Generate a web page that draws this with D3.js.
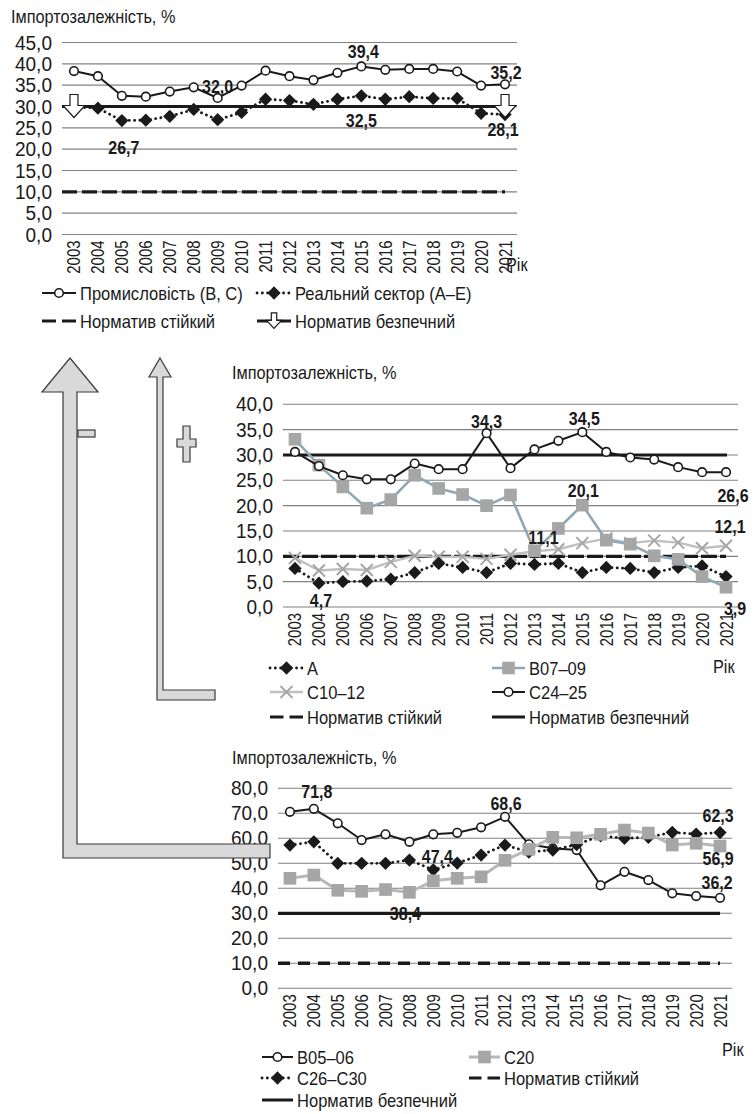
<!DOCTYPE html>
<html>
<head>
<meta charset="utf-8">
<script src="https://cdn.jsdelivr.net/npm/d3@7"></script>
<style>
  body { margin: 0; background: #fff; }
  svg text { font-family: "Liberation Sans", Arial, sans-serif; fill: #1a1a1a; }
</style>
</head>
<body>
<svg id="chart" width="756" height="1114"></svg>
<script>
// ---- data ----
var years = ["2003","2004","2005","2006","2007","2008","2009","2010","2011","2012",
             "2013","2014","2015","2016","2017","2018","2019","2020","2021"];

// chart 1
var industryBC   = [38.3, 37.1, 32.5, 32.3, 33.5, 34.5, 32.0, 34.9, 38.4, 37.1, 36.2, 37.9, 39.4, 38.6, 38.8, 38.8, 38.2, 34.9, 35.2];
var realSectorAE = [29.9, 29.6, 26.7, 26.8, 27.7, 29.3, 26.9, 28.6, 31.7, 31.4, 30.5, 31.7, 32.5, 31.7, 32.3, 31.9, 31.9, 28.4, 28.1];

// chart 2
var sectorA     = [7.6, 4.7, 5.0, 5.1, 5.5, 6.8, 8.6, 7.8, 6.8, 8.6, 8.4, 8.6, 6.8, 7.8, 7.6, 6.8, 7.8, 8.1, 6.0];
var sectorB0709 = [33.1, 28.0, 23.7, 19.5, 21.2, 26.0, 23.4, 22.2, 20.0, 22.1, 11.1, 15.5, 20.1, 13.2, 12.4, 10.1, 9.4, 6.0, 3.9];
var sectorC1012 = [9.7, 7.2, 7.5, 7.3, 8.9, 10.1, 9.9, 9.9, 9.5, 10.3, 11.0, 11.4, 12.6, 13.5, 12.6, 13.1, 12.7, 11.6, 12.1];
var sectorC2425 = [30.6, 27.8, 26.0, 25.2, 25.2, 28.3, 27.2, 27.2, 34.3, 27.4, 31.1, 32.8, 34.5, 30.6, 29.5, 29.1, 27.6, 26.6, 26.6];

// chart 3
var sectorB0506 = [70.6, 71.8, 66.0, 59.3, 61.6, 58.6, 61.6, 62.2, 64.4, 68.6, 57.6, 56.0, 55.3, 41.2, 46.6, 43.3, 38.0, 36.9, 36.2];
var sectorC2630 = [57.3, 58.6, 50.0, 50.0, 50.0, 51.3, 47.4, 50.1, 53.3, 57.3, 54.5, 55.3, 57.5, 61.0, 60.0, 60.4, 62.4, 61.7, 62.3];
var sectorC20   = [44.0, 45.3, 39.2, 38.8, 39.5, 38.4, 43.0, 44.0, 44.6, 51.2, 55.6, 60.4, 60.2, 61.6, 63.3, 62.1, 57.3, 58.0, 56.9];

var normStable = 10, normSafe = 30;
var ticks1 = [0, 5, 10, 15, 20, 25, 30, 35, 40, 45];
var ticks2 = [0, 5, 10, 15, 20, 25, 30, 35, 40];
var ticks3 = [0, 10, 20, 30, 40, 50, 60, 70, 80];

var yTitle = "Імпортозалежність, %";
var xTitle = "Рік";
var nameStable = "Норматив стійкий", nameSafe = "Норматив безпечний";

// ---- styles ----
var ink = "#1a1a1a";
var styles = {
  circle:   { stroke: ink, width: 2, dash: null, marker: "circle" },
  diamond:  { stroke: ink, width: 2.8, dash: "0.1 5.2", marker: "diamond" },
  blueSq:   { stroke: "#8ea8b6", width: 2.6, dash: null, marker: "square" },
  graySq:   { stroke: "#b8b8b8", width: 3, dash: null, marker: "square" },
  cross:    { stroke: "#c0c0c0", width: 2.4, dash: null, marker: "times" }
};

var fmt = function(v) { return d3.format(".1f")(v).replace(".", ","); };
var svg = d3.select("#chart");

// condensed look: shrink the real text horizontally
function squeeze(sel, f) {
  sel.each(function() {
    var L = this.getComputedTextLength();
    this.setAttribute("textLength", (L * f).toFixed(1));
    this.setAttribute("lengthAdjust", "spacingAndGlyphs");
  });
}

function drawMarker(sel, type, k) {
  k = k || 1;
  if (type === "circle") {
    sel.append("circle").attr("r", 4.3 * k).attr("fill", "#fff").attr("stroke", ink).attr("stroke-width", 1.6);
  } else if (type === "diamond") {
    sel.append("path").attr("d", d3.symbol(d3.symbolSquare, 88 * k * k)()).attr("transform", "rotate(45)").attr("fill", ink);
  } else if (type === "square") {
    sel.append("path").attr("d", d3.symbol(d3.symbolSquare, 160 * k * k)()).attr("fill", "#a6a6a6");
  } else if (type === "times") {
    sel.append("path").attr("d", d3.symbol(d3.symbolTimes, 96 * k * k)()).attr("fill", "none")
      .attr("stroke", "#a6a6a6").attr("stroke-width", 2);
  }
}

function downArrow(sel, k) {
  sel.append("path")
    .attr("d", "M-4,-12H4V-1H11L0,11L-11,-1H-4Z")
    .attr("transform", "scale(" + k + ")")
    .attr("fill", "#fff").attr("stroke", ink).attr("stroke-width", 1.2 / k);
}

function drawChart(cfg) {
  var g = svg.append("g");
  var x = d3.scaleBand().domain(years).range([cfg.left, cfg.right]);
  var cx = function(i) { return x(years[i]) + x.bandwidth() / 2; };
  var y = d3.scaleLinear().domain([0, cfg.yMax]).range([cfg.y0, cfg.yTop]);

  // title
  g.append("text").attr("x", cfg.titleX).attr("y", cfg.titleY)
    .attr("font-size", 18.5).text(yTitle).call(squeeze, 0.88);

  // grid
  g.append("g").selectAll("line").data(cfg.ticks).join("line")
    .attr("x1", cfg.left).attr("x2", cfg.right)
    .attr("y1", function(d) { return y(d); }).attr("y2", function(d) { return y(d); })
    .attr("stroke", "#808080").attr("stroke-width", 1.1);

  // y axis
  var ya = g.append("g").attr("transform", "translate(" + cfg.left + ",0)")
    .call(d3.axisLeft(y).tickValues(cfg.ticks).tickFormat(fmt).tickSize(0).tickPadding(10));
  ya.select(".domain").remove();
  ya.selectAll("text").attr("font-size", 20.5).attr("font-family", null).call(squeeze, 0.93);

  // x axis
  var xa = g.append("g").attr("transform", "translate(0," + cfg.y0 + ")")
    .call(d3.axisBottom(x).tickSize(0));
  xa.select(".domain").remove();
  xa.selectAll("text").attr("font-size", 18).attr("font-family", null)
    .attr("transform", "rotate(-90)").attr("text-anchor", "end")
    .attr("x", -6).attr("y", 0).attr("dy", "0.36em").call(squeeze, 0.83);

  g.append("text").attr("x", cfg.xTitleX).attr("y", cfg.xTitleY)
    .attr("font-size", 18.5).text(xTitle).call(squeeze, 0.88);

  // norms
  var lastX = cx(years.length - 1);
  g.append("line").attr("x1", cfg.left).attr("x2", lastX + cfg.stableExtra)
    .attr("y1", y(normStable)).attr("y2", y(normStable))
    .attr("stroke", ink).attr("stroke-width", 3.4).attr("stroke-dasharray", cfg.stableDash);
  g.append("line").attr("x1", cfg.left).attr("x2", lastX + cfg.safeExtra)
    .attr("y1", y(normSafe)).attr("y2", y(normSafe))
    .attr("stroke", ink).attr("stroke-width", 3.2);

  // series
  var line = d3.line().x(function(d, i) { return cx(i); }).y(function(d) { return y(d); });
  cfg.series.forEach(function(s) {
    var st = styles[s.style];
    g.append("path").datum(s.values).attr("d", line)
      .attr("fill", "none").attr("stroke", st.stroke).attr("stroke-width", st.width)
      .attr("stroke-linecap", st.dash ? "round" : "butt").attr("stroke-linejoin", "round")
      .attr("stroke-dasharray", st.dash);
    g.append("g").selectAll("g").data(s.values).join("g")
      .attr("transform", function(d, i) { return "translate(" + cx(i) + "," + y(d) + ")"; })
      .each(function() { drawMarker(d3.select(this), st.marker); });
  });

  // safe-norm arrows (chart 1)
  if (cfg.safeArrows) {
    [0, years.length - 1].forEach(function(i) {
      var a = g.append("g").attr("transform", "translate(" + cx(i) + "," + y(normSafe) + ")");
      downArrow(a, 1);
    });
  }

  // value labels
  cfg.notes.forEach(function(n) {
    var v = n.values[n.i];
    g.append("text").attr("x", cx(n.i) + n.dx).attr("y", y(v) + n.dy).attr("dy", "0.36em")
      .attr("text-anchor", "middle").attr("font-size", 19).attr("font-weight", "bold")
      .text(fmt(v)).call(squeeze, 0.84);
  });

  // legend
  cfg.legend.forEach(function(it) {
    var lg = g.append("g").attr("transform", "translate(" + it.x + "," + it.y + ")");
    var w = cfg.legendW;
    if (it.kind === "stable") {
      lg.append("line").attr("x1", 0).attr("x2", w).attr("stroke", ink).attr("stroke-width", 3)
        .attr("stroke-dasharray", (w / 2 - 3) + " 6");
    } else if (it.kind === "safe") {
      lg.append("line").attr("x1", 0).attr("x2", w).attr("stroke", ink).attr("stroke-width", 3);
      if (cfg.safeArrows) downArrow(lg.append("g").attr("transform", "translate(" + w / 2 + ",0)"), 0.68);
    } else {
      var st = styles[it.kind];
      lg.append("line").attr("x1", 0).attr("x2", w).attr("stroke", st.stroke)
        .attr("stroke-width", st.width).attr("stroke-dasharray", st.dash)
        .attr("stroke-linecap", st.dash ? "round" : "butt");
      drawMarker(lg.append("g").attr("transform", "translate(" + w / 2 + ",0)"), st.marker);
    }
    lg.append("text").attr("x", w + 4).attr("dy", "0.36em").attr("font-size", 19)
      .text(it.label).call(squeeze, 0.87);
  });
}

// ---- chart 1 ----
drawChart({
  left: 62, right: 517, y0: 234.5, yTop: 42.5, yMax: 45, ticks: ticks1,
  titleX: 11, titleY: 23, xTitleX: 506, xTitleY: 271,
  stableDash: "15 5", stableExtra: 0, safeExtra: 3, safeArrows: true,
  series: [
    { values: industryBC, style: "circle" },
    { values: realSectorAE, style: "diamond" }
  ],
  notes: [
    { values: industryBC, i: 6, dx: 0, dy: -12 },
    { values: industryBC, i: 12, dx: 2, dy: -15 },
    { values: industryBC, i: 18, dx: 1, dy: -12 },
    { values: realSectorAE, i: 2, dx: 2, dy: 27 },
    { values: realSectorAE, i: 12, dx: 0, dy: 24 },
    { values: realSectorAE, i: 18, dx: -2, dy: 15 }
  ],
  legendW: 34,
  legend: [
    { kind: "circle", label: "Промисловість (B, C)", x: 42, y: 293 },
    { kind: "diamond", label: "Реальний сектор (A–E)", x: 257, y: 293 },
    { kind: "stable", label: nameStable, x: 42, y: 321 },
    { kind: "safe", label: nameSafe, x: 257, y: 321 }
  ]
});

// ---- chart 2 ----
drawChart({
  left: 283, right: 738, y0: 607, yTop: 404.3, yMax: 40, ticks: ticks2,
  titleX: 232, titleY: 379, xTitleX: 713, xTitleY: 673,
  stableDash: "16 3", stableExtra: 0, safeExtra: 1, safeArrows: false,
  series: [
    { values: sectorC1012, style: "cross" },
    { values: sectorA, style: "diamond" },
    { values: sectorB0709, style: "blueSq" },
    { values: sectorC2425, style: "circle" }
  ],
  notes: [
    { values: sectorC2425, i: 8, dx: 0, dy: -12 },
    { values: sectorC2425, i: 12, dx: 2, dy: -14 },
    { values: sectorB0709, i: 12, dx: 1, dy: -15 },
    { values: sectorC2425, i: 18, dx: 7, dy: 23 },
    { values: sectorC1012, i: 18, dx: 4, dy: -20 },
    { values: sectorB0709, i: 10, dx: 9, dy: -14 },
    { values: sectorA, i: 1, dx: 2, dy: 17 },
    { values: sectorB0709, i: 18, dx: 9, dy: 21 }
  ],
  legendW: 33,
  legend: [
    { kind: "diamond", label: "A", x: 270, y: 668 },
    { kind: "blueSq", label: "B07–09", x: 492, y: 668 },
    { kind: "cross", label: "C10–12", x: 270, y: 692 },
    { kind: "circle", label: "C24–25", x: 492, y: 692 },
    { kind: "stable", label: nameStable, x: 270, y: 717 },
    { kind: "safe", label: nameSafe, x: 492, y: 717 }
  ]
});

// ---- chart 3 ----
drawChart({
  left: 278, right: 732, y0: 988.3, yTop: 788.3, yMax: 80, ticks: ticks3,
  titleX: 232, titleY: 764, xTitleX: 722, xTitleY: 1056,
  stableDash: "12 8", stableExtra: 0, safeExtra: 0, safeArrows: false,
  series: [
    { values: sectorB0506, style: "circle" },
    { values: sectorC2630, style: "diamond" },
    { values: sectorC20, style: "graySq" }
  ],
  notes: [
    { values: sectorB0506, i: 1, dx: 3, dy: -18 },
    { values: sectorC2630, i: 6, dx: 4, dy: -14 },
    { values: sectorB0506, i: 9, dx: 1, dy: -14 },
    { values: sectorC2630, i: 18, dx: -2, dy: -17 },
    { values: sectorC20, i: 18, dx: -2, dy: 12 },
    { values: sectorB0506, i: 18, dx: -3, dy: -16 },
    { values: sectorC20, i: 5, dx: -4, dy: 21 }
  ],
  legendW: 31,
  legend: [
    { kind: "circle", label: "B05–06", x: 262, y: 1057 },
    { kind: "graySq", label: "C20", x: 469, y: 1057 },
    { kind: "diamond", label: "C26–C30", x: 262, y: 1078 },
    { kind: "stable", label: nameStable, x: 469, y: 1078 },
    { kind: "safe", label: nameSafe, x: 262, y: 1100 }
  ]
});

// ---- direction arrows on the left ----
var deco = svg.append("g").attr("fill", "#d9d9d9").attr("stroke", "#3a3a3a").attr("stroke-width", 1.2);
// big "-" arrow
deco.append("path").attr("d", "M70,358L98,392H77V844H270V858H63V392H42Z");
deco.append("rect").attr("x", 78).attr("y", 430).attr("width", 17).attr("height", 7);
// small "+" arrow
deco.append("path").attr("d", "M160,358L171,377H163V690H215V700H157V377H149Z");
deco.append("path").attr("d", "M183,426H190V439H196V447H190V462H183V447H177V439H183Z");
</script>
</body>
</html>
